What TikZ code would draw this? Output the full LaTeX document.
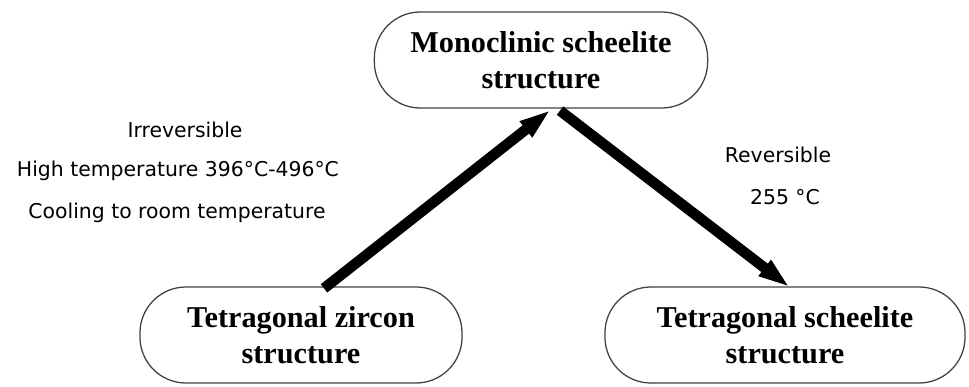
\documentclass[tikz,border=0pt]{standalone}
\usepackage{fontspec}
\setmainfont{Liberation Serif}
\newfontfamily\labelfont{DejaVu Sans}
\usetikzlibrary{arrows.meta,calc}

\tikzset{
  phase/.style={draw=black!75, line width=0.9pt, rounded corners=1.15cm,
    align=center, font=\fontsize{21.5}{26}\selectfont\bfseries,
    minimum height=2.4cm, inner sep=0pt},
  note/.style={font=\labelfont\fontsize{14.5}{16}\selectfont, align=center},
  bigarrow/.style={line width=7.5pt, -{Triangle[length=0.8cm, width=0.45cm]}}
}

\begin{document}
\begin{tikzpicture}[x=0.025cm, y=-0.025cm]
\useasboundingbox (0,0) rectangle (969,387);

% phases
\node[phase, minimum width=8.33cm] (mono) at (541,60) {Monoclinic scheelite\\structure};
\node[phase, minimum width=8.05cm] (zircon) at (301,335) {Tetragonal zircon\\structure};
\node[phase, minimum width=9cm] (tscheel) at (785,335) {Tetragonal scheelite\\structure};

% transitions
\draw[bigarrow] ($(zircon.north)+(23,2)$) -- ($(mono.south)+(10,1)$);
\draw[bigarrow] ($(mono.south)+(19,2)$) -- ($(tscheel.north)+(5,1)$);

% conditions
\node[note] (irrev) at (185,130) {Irreversible};
\node[note] (hight) at (178,171) {High temperature 396°C-496°C};
\node[note] (cool) at (177,213) {Cooling to room temperature};

\node[note] (rev) at (778,155) {Reversible};
\node[note] (temp) at (785,197) {255 °C};
\end{tikzpicture}
\end{document}
